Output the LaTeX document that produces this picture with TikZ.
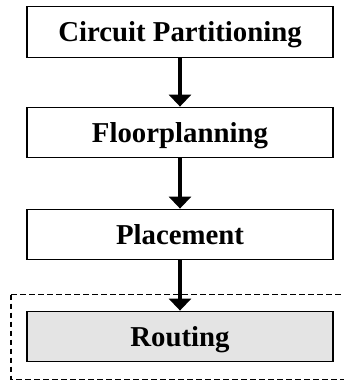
\documentclass[tikz,border=0pt]{standalone}
\usepackage{fontspec}
\setmainfont{Liberation Serif}
\usetikzlibrary{arrows.meta}
\begin{document}
\begin{tikzpicture}[x=1pt,y=1pt,
  stage/.style={draw=black, line width=1.3pt, fill=white, minimum width=306pt,
    minimum height=50.5pt, inner sep=0pt, text height=19.3pt, text depth=0pt,
    font=\fontsize{28.8pt}{30pt}\selectfont\bfseries},
  flow/.style={line width=4.3pt, -{Triangle[length=12pt,width=22pt]}}]
\useasboundingbox (0,0) rectangle (343,-380);
% optional-stage frame, running off the right edge
\draw[line width=1.5pt, dash pattern=on 5.5pt off 3.5pt] (11,-294.5) rectangle (352,-379.3);
\node[stage] (part)  at (180,-32)    {Circuit Partitioning};
\node[stage] (floor) at (180,-132.5) {Floorplanning};
\node[stage] (place) at (180,-234.5) {Placement};
\node[stage, fill={rgb,255:red,228;green,228;blue,228}] (route) at (180,-336.5) {Routing};
\draw[flow] (part.south)  -- (floor.north);
\draw[flow] (floor.south) -- (place.north);
\draw[flow] (place.south) -- (route.north);
\end{tikzpicture}
\end{document}
